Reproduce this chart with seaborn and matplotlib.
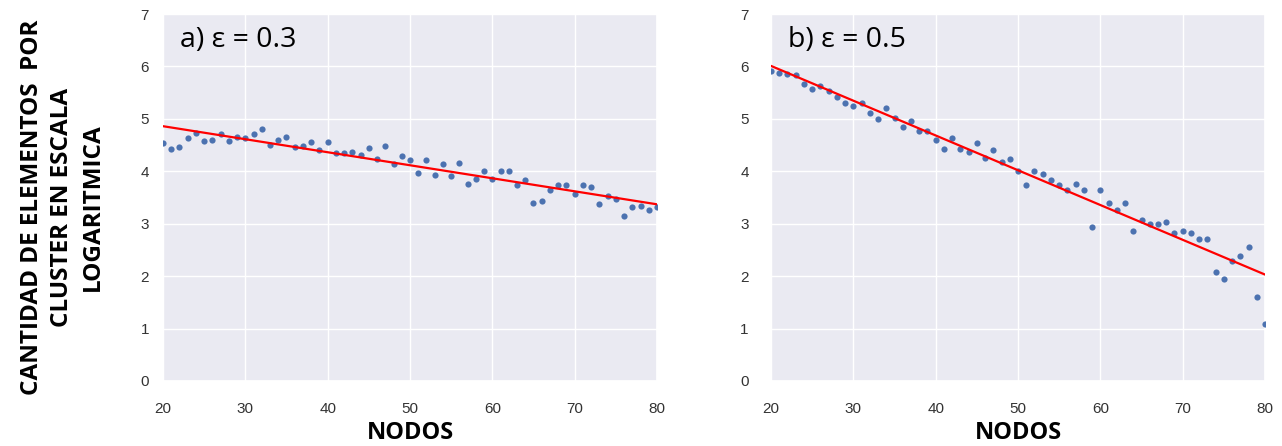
import matplotlib
matplotlib.use("Agg")
import matplotlib.pyplot as plt
import seaborn as sns
import pandas as pd

# Nodes (x axis) shared by both panels
nodos = list(range(20, 81))

# Log-scale cluster size, epsilon = 0.3
valores_a = [4.54, 4.42, 4.47, 4.63, 4.73, 4.58, 4.59, 4.71, 4.58, 4.66,
             4.64, 4.71, 4.80, 4.51, 4.60, 4.66, 4.46, 4.49, 4.56, 4.41,
             4.56, 4.34, 4.34, 4.37, 4.32, 4.44, 4.24, 4.48, 4.13, 4.29,
             4.22, 3.96, 4.21, 3.93, 4.13, 3.91, 4.15, 3.76, 3.85, 4.00,
             3.85, 4.00, 4.00, 3.74, 3.83, 3.40, 3.44, 3.64, 3.74, 3.74,
             3.57, 3.74, 3.70, 3.38, 3.53, 3.48, 3.14, 3.31, 3.34, 3.27,
             3.31]

# Log-scale cluster size, epsilon = 0.5
valores_b = [5.91, 5.88, 5.86, 5.84, 5.67, 5.57, 5.63, 5.54, 5.41, 5.30,
             5.25, 5.30, 5.11, 5.00, 5.21, 5.02, 4.85, 4.95, 4.76, 4.76,
             4.59, 4.43, 4.63, 4.43, 4.36, 4.53, 4.26, 4.40, 4.17, 4.23,
             4.01, 3.73, 4.01, 3.94, 3.84, 3.73, 3.64, 3.75, 3.64, 2.93,
             3.64, 3.39, 3.26, 3.39, 2.87, 3.08, 2.99, 2.99, 3.04, 2.82,
             2.87, 2.82, 2.70, 2.70, 2.08, 1.95, 2.28, 2.38, 2.55, 1.61,
             1.09]

# Linear trend lines (end points)
tendencia_x = [20, 80]
tendencia_a = [4.86, 3.37]
tendencia_b = [6.01, 2.03]

titulos = ["a) ε = 0.3", "b) ε = 0.5"]
x_ticks = [20, 30, 40, 50, 60, 70, 80]
y_ticks = [0, 1, 2, 3, 4, 5, 6, 7]

sns.set_theme(style="darkgrid")
plt.rcParams["font.family"] = ["Liberation Sans", "DejaVu Sans"]

W, H = 1282, 446
fig = plt.figure(figsize=(W / 100, H / 100), dpi=100)

paneles = [
    (163, 657, valores_a, tendencia_a, titulos[0], 4),
    (771, 1265, valores_b, tendencia_b, titulos[1], 10),
]
top_px, bottom_px = 14, 381

for left, right, vals, trend, titulo, ypad in paneles:
    ax = fig.add_axes([left / W, (H - bottom_px) / H,
                       (right - left) / W, (bottom_px - top_px) / H])
    df = pd.DataFrame({"nodos": nodos, "valor": vals})
    sns.scatterplot(data=df, x="nodos", y="valor", ax=ax, color="#4C72B0",
                    s=20, linewidth=0, zorder=3, clip_on=True)
    sns.lineplot(x=tendencia_x, y=trend, ax=ax, color="red", linewidth=1.6,
                 zorder=4)
    ax.set_xlim(20, 80)
    ax.set_ylim(0, 7)
    ax.set_xticks(x_ticks)
    ax.set_yticks(y_ticks)
    ax.tick_params(axis="x", labelsize=11, pad=9, colors="#333333")
    ax.tick_params(axis="y", labelsize=11, pad=ypad, colors="#333333")
    ax.set_ylabel("")
    ax.set_xlabel("NODOS", fontsize=17, fontweight="bold",
                  family=["Open Sans", "DejaVu Sans"], color="black")
    ax.xaxis.set_label_coords(0.5, -0.11)
    ax.text(0.035, 0.928, titulo, transform=ax.transAxes, fontsize=20.5,
            ha="left", va="center", color="black",
            family=["Open Sans", "DejaVu Sans"])

fig.text(62 / W, (H - 207) / H,
         "CANTIDAD DE ELEMENTOS  POR\nCLUSTER EN ESCALA\nLOGARITMICA",
         rotation=90, ha="center", va="center", multialignment="center",
         fontsize=17.5, fontweight="bold", linespacing=1.36,
         family=["Open Sans", "DejaVu Sans"], color="black")

fig.savefig("out.png", dpi=100)
